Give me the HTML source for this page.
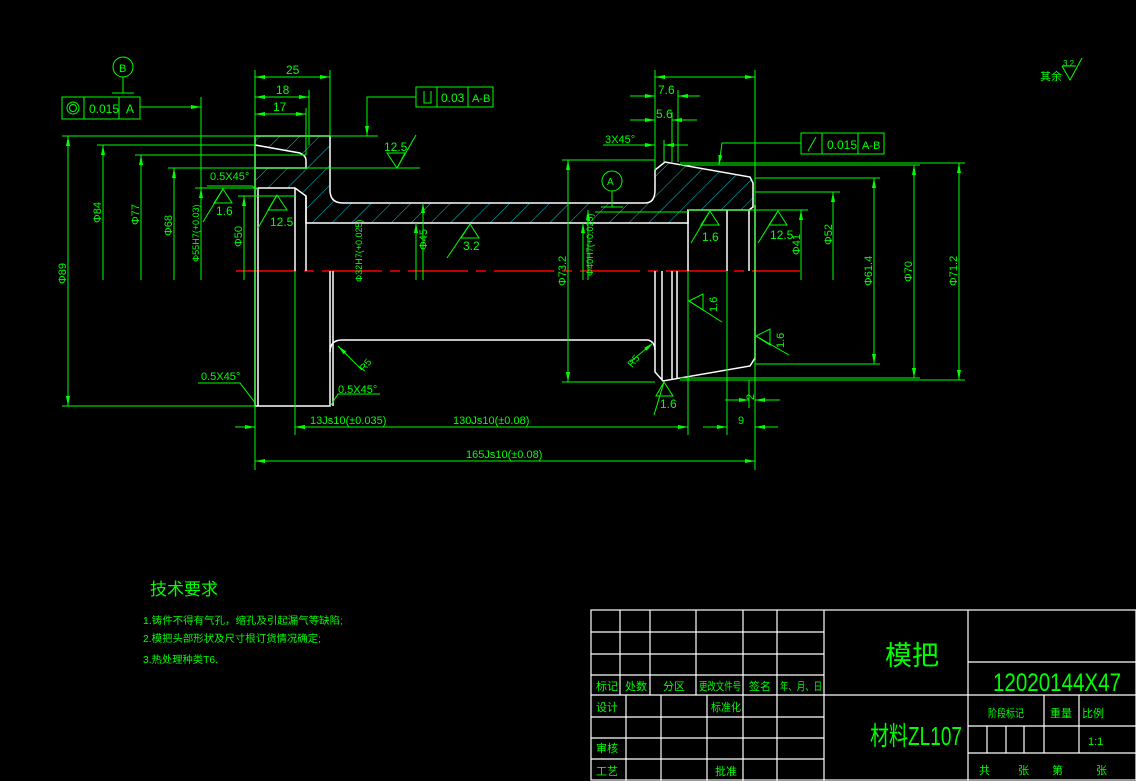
<!DOCTYPE html>
<html><head><meta charset="utf-8"><style>
html,body{margin:0;padding:0;background:#000;}
svg{display:block;}
text{font-family:"Liberation Sans","Noto Sans CJK SC",sans-serif;fill:#00ff00;}
</style></head><body>
<svg width="1136" height="781" viewBox="0 0 1136 781" xmlns="http://www.w3.org/2000/svg">
<defs>
<pattern id="h" patternUnits="userSpaceOnUse" width="14" height="14" patternTransform="rotate(45)">
<line x1="0" y1="0" x2="0" y2="14" stroke="#00c8d0" stroke-width="1"/>
</pattern>
<marker id="a" viewBox="0 0 10 4" refX="10" refY="2" markerWidth="10" markerHeight="4" orient="auto-start-reverse" markerUnits="userSpaceOnUse"><path d="M0,0L10,2L0,4z" fill="#00ff00"/></marker>
</defs>
<rect width="1136" height="781" fill="#000"/>

<!-- hatch -->
<path d="M255,136L330,136L330,190Q330,203 343,203L645,203Q655,203 655,190L655,170L665,162L750,177L753,183L753,207L749,210L688,210L688,223L306,223L306,196L295,188L258,188L255,185L255,168L306,168L306,158Q304,153 300,153L255,145Z" fill="url(#h)"/>

<!-- centerline -->
<line x1="236" y1="271" x2="800" y2="271" stroke="#ff0000" stroke-width="1.5" stroke-dasharray="60,8,10,8"/>

<!-- white geometry -->
<g stroke="#ffffff" stroke-width="1.5" fill="none">
<path d="M255,136L330,136L330,190Q330,203 343,203L645,203Q655,203 655,190L655,170L665,162L750,177L753,183L753,207L749,210L688,210L688,223L306,223L306,196L295,188L258,188"/>
<path d="M255,145L300,153Q306,156 306,160L306,168L255,168"/>
<line x1="255" y1="136" x2="255" y2="406"/>
<line x1="258" y1="188" x2="258" y2="406"/>
<line x1="295" y1="188" x2="295" y2="271"/>
<line x1="306" y1="196" x2="306" y2="271"/>
<path d="M255,406L330,406L330,352Q330,340 342,340L648,340Q655,342 655,350"/>
<line x1="333" y1="271" x2="333" y2="406"/>
<line x1="330" y1="271" x2="330" y2="352"/>
<line x1="688" y1="210" x2="688" y2="271"/>
<line x1="727" y1="210" x2="727" y2="271"/>
<line x1="749" y1="210" x2="749" y2="271"/>
<line x1="755" y1="205" x2="755" y2="360"/>
<path d="M655,271L655,372L663,381L750,366L755,358"/>
<line x1="662" y1="271" x2="662" y2="380"/>
<line x1="672" y1="271" x2="672" y2="379"/>
<line x1="677" y1="271" x2="677" y2="378"/>
</g>

<!-- green dimension lines -->
<g stroke="#00ff00" stroke-width="1" fill="none">
<!-- ext lines left -->
<line x1="62" y1="136" x2="378" y2="136"/>
<line x1="62" y1="406" x2="255" y2="406"/>
<line x1="97" y1="145" x2="255" y2="145"/>
<line x1="135" y1="155" x2="306" y2="155"/>
<line x1="168" y1="168" x2="420" y2="168"/>
<line x1="195" y1="188" x2="258" y2="188"/>
<line x1="238" y1="196" x2="295" y2="196"/>
<line x1="68" y1="136" x2="68" y2="406" marker-start="url(#a)" marker-end="url(#a)"/>
<line x1="103" y1="280" x2="103" y2="145" marker-end="url(#a)"/>
<line x1="141" y1="280" x2="141" y2="155" marker-end="url(#a)"/>
<line x1="174" y1="280" x2="174" y2="168" marker-end="url(#a)"/>
<line x1="201" y1="97" x2="201" y2="280"/>
<line x1="201" y1="230" x2="201" y2="188" marker-end="url(#a)"/>
<line x1="244" y1="280" x2="244" y2="196" marker-end="url(#a)"/>
<!-- top dims left -->
<line x1="255" y1="70" x2="255" y2="470"/>
<line x1="330" y1="70" x2="330" y2="136"/>
<line x1="309" y1="90" x2="309" y2="145"/>
<line x1="306" y1="108" x2="306" y2="155"/>
<line x1="255" y1="77" x2="330" y2="77" marker-start="url(#a)" marker-end="url(#a)"/>
<line x1="255" y1="97" x2="309" y2="97" marker-start="url(#a)" marker-end="url(#a)"/>
<line x1="255" y1="114" x2="306" y2="114" marker-start="url(#a)" marker-end="url(#a)"/>
<!-- left FCF -->
<rect x="62" y="97" width="78" height="22"/>
<line x1="84" y1="97" x2="84" y2="119"/><line x1="119" y1="97" x2="119" y2="119"/>
<circle cx="73" cy="108" r="6"/><circle cx="73" cy="108" r="3.5"/>
<line x1="140" y1="107" x2="201" y2="107" marker-end="url(#a)"/>
<circle cx="123" cy="67" r="10"/>
<line x1="123" y1="77" x2="123" y2="93"/><line x1="112" y1="93" x2="134" y2="93"/>
<!-- top FCF -->
<rect x="416" y="87" width="77" height="20"/>
<line x1="437" y1="87" x2="437" y2="107"/><line x1="468" y1="87" x2="468" y2="107"/>
<path d="M424,91L424,103L431,103L431,91"/>
<path d="M416,97L367,97L367,136" marker-end="url(#a)"/>
<line x1="300" y1="168" x2="408" y2="168"/>
<line x1="340" y1="136" x2="378" y2="136"/>
<!-- right top dims -->
<line x1="655" y1="70" x2="655" y2="170"/>
<line x1="755" y1="70" x2="755" y2="470"/>
<line x1="655" y1="77" x2="755" y2="77" marker-start="url(#a)" marker-end="url(#a)"/>
<line x1="678" y1="90" x2="678" y2="162"/>
<line x1="672" y1="112" x2="672" y2="162"/>
<line x1="664" y1="140" x2="664" y2="162"/>
<line x1="630" y1="96" x2="655" y2="96" marker-end="url(#a)"/>
<line x1="700" y1="96" x2="678" y2="96" marker-end="url(#a)"/>
<line x1="630" y1="120" x2="655" y2="120" marker-end="url(#a)"/>
<line x1="697" y1="120" x2="672" y2="120" marker-end="url(#a)"/>
<line x1="603" y1="145" x2="655" y2="145" marker-end="url(#a)"/>
<line x1="688" y1="145" x2="664" y2="145" marker-end="url(#a)"/>
<!-- right FCF -->
<rect x="801" y="133" width="83" height="21"/>
<line x1="822" y1="133" x2="822" y2="154"/><line x1="858" y1="133" x2="858" y2="154"/>
<line x1="808" y1="151" x2="816" y2="137"/>
<path d="M801,143L722,143L719,165" marker-end="url(#a)"/>
<!-- right diam dims -->
<line x1="562" y1="160" x2="655" y2="160"/>
<line x1="562" y1="382" x2="655" y2="382"/>
<line x1="568" y1="160" x2="568" y2="382" marker-start="url(#a)" marker-end="url(#a)"/>
<line x1="688" y1="210" x2="808" y2="210"/>
<line x1="801" y1="280" x2="801" y2="210" marker-end="url(#a)"/>
<line x1="755" y1="192" x2="840" y2="192"/>
<line x1="833" y1="280" x2="833" y2="192" marker-end="url(#a)"/>
<line x1="755" y1="178" x2="880" y2="178"/>
<line x1="755" y1="364" x2="880" y2="364"/>
<line x1="874" y1="178" x2="874" y2="364" marker-start="url(#a)" marker-end="url(#a)"/>
<line x1="680" y1="165" x2="920" y2="165"/>
<line x1="680" y1="378" x2="920" y2="378"/>
<line x1="914" y1="165" x2="914" y2="378" marker-start="url(#a)" marker-end="url(#a)"/>
<line x1="680" y1="163" x2="965" y2="163"/>
<line x1="680" y1="380" x2="965" y2="380"/>
<line x1="959" y1="163" x2="959" y2="380" marker-start="url(#a)" marker-end="url(#a)"/>
<!-- A datum -->
<circle cx="612" cy="181" r="10"/>
<line x1="612" y1="191" x2="612" y2="207"/><line x1="601" y1="207" x2="623" y2="207"/>
<line x1="595" y1="212" x2="688" y2="212"/>
<line x1="416" y1="280" x2="416" y2="223" marker-end="url(#a)"/>
<line x1="423" y1="280" x2="423" y2="203" marker-end="url(#a)"/>
<line x1="583" y1="280" x2="583" y2="223" marker-end="url(#a)"/>
<line x1="588" y1="280" x2="588" y2="210" marker-end="url(#a)"/>
<!-- bottom dims -->
<line x1="295" y1="271" x2="295" y2="435"/>
<line x1="688" y1="271" x2="688" y2="435"/>
<line x1="727" y1="271" x2="727" y2="435"/>
<line x1="749" y1="380" x2="749" y2="408"/>
<line x1="235" y1="427" x2="255" y2="427" marker-end="url(#a)"/>
<line x1="320" y1="427" x2="295" y2="427" marker-end="url(#a)"/>
<line x1="295" y1="427" x2="688" y2="427" marker-start="url(#a)" marker-end="url(#a)"/>
<line x1="703" y1="427" x2="727" y2="427" marker-end="url(#a)"/>
<line x1="778" y1="427" x2="755" y2="427" marker-end="url(#a)"/>
<line x1="725" y1="400" x2="749" y2="400" marker-end="url(#a)"/>
<line x1="780" y1="400" x2="755" y2="400" marker-end="url(#a)"/>
<line x1="255" y1="461" x2="755" y2="461" marker-start="url(#a)" marker-end="url(#a)"/>
<!-- chamfer leaders -->
<path d="M207,186L252,186L258,190"/>
<path d="M198,383L240,383L256,404"/>
<path d="M380,394L338,394L331,405"/>
<line x1="338" y1="346" x2="362" y2="370" marker-start="url(#a)"/>
<line x1="653" y1="343" x2="630" y2="362" marker-start="url(#a)"/>
<!-- roughness symbols -->
<path d="M387,153L405,153L397,168Z"/><line x1="397" y1="168" x2="416" y2="135"/>
<path d="M223,189L214,203L232,203Z"/><line x1="223" y1="189" x2="203" y2="222"/>
<path d="M277,195L268,210L287,210Z"/><line x1="277" y1="195" x2="258" y2="228"/>
<path d="M470,224L461,238L479,238Z"/><line x1="470" y1="224" x2="447" y2="258"/>
<path d="M710,211L701,225L719,225Z"/><line x1="710" y1="211" x2="691" y2="243"/>
<path d="M778,211L769,225L787,225Z"/><line x1="778" y1="211" x2="758" y2="243"/>
<path d="M689,301L703,294L703,310Z"/><line x1="689" y1="301" x2="722" y2="322"/>
<path d="M756,336L770,329L770,345Z"/><line x1="756" y1="336" x2="789" y2="355"/>
<path d="M664,382L656,396L673,396Z"/><line x1="664" y1="382" x2="654" y2="415"/>
<path d="M1062,66L1070,80L1082,58"/><line x1="1062" y1="66" x2="1076" y2="66"/>
</g>

<!-- left texts -->
<g font-size="12">
<text x="286" y="74">25</text>
<text x="276" y="94">18</text>
<text x="273" y="111">17</text>
<text x="89" y="113" font-size="12">0.015</text>
<text x="126" y="113">A</text>
<text x="119" y="72" font-size="11">B</text>
<text x="441" y="102" font-size="12">0.03</text>
<text x="472" y="102" font-size="11">A-B</text>
<text x="384" y="151">12.5</text>
<text x="210" y="180" font-size="11">0.5X45°</text>
<text x="216" y="215">1.6</text>
<text x="270" y="226">12.5</text>
<text x="463" y="250">3.2</text>
<text x="702" y="241">1.6</text>
<text x="770" y="239">12.5</text>
<text x="660" y="408">1.6</text>
<text x="201" y="380" font-size="11">0.5X45°</text>
<text x="338" y="393" font-size="11">0.5X45°</text>
<text x="310" y="424" font-size="11">13Js10(±0.035)</text>
<text x="453" y="424" font-size="11">130Js10(±0.08)</text>
<text x="466" y="458" font-size="11">165Js10(±0.08)</text>
<text x="738" y="424" font-size="11">9</text>
<text x="658" y="94">7.6</text>
<text x="656" y="118">5.6</text>
<text x="605" y="143" font-size="11">3X45°</text>
<text x="607" y="185" font-size="10">A</text>
<text x="827" y="149">0.015</text>
<text x="862" y="149" font-size="11">A-B</text>
<text x="1040" y="80" font-size="11">其余</text>
<text x="1063" y="66" font-size="8">3.2</text>
</g>
<!-- rotated texts -->
<g font-size="11">
<text transform="translate(66,284) rotate(-90)">Φ89</text>
<text transform="translate(101,223) rotate(-90)">Φ84</text>
<text transform="translate(139,225) rotate(-90)">Φ77</text>
<text transform="translate(172,236) rotate(-90)">Φ68</text>
<text transform="translate(199,262) rotate(-90)" font-size="9">Φ55H7(+0.03)</text>
<text transform="translate(242,247) rotate(-90)">Φ50</text>
<text transform="translate(362,282) rotate(-90)" font-size="9">Φ32H7(+0.025)</text>
<text transform="translate(427,250) rotate(-90)">Φ45</text>
<text transform="translate(566,286) rotate(-90)">Φ73.2</text>
<text transform="translate(593,276) rotate(-90)" font-size="9">Φ40H7(+0.025)</text>
<text transform="translate(800,255) rotate(-90)">Φ41</text>
<text transform="translate(832,245) rotate(-90)">Φ52</text>
<text transform="translate(872,286) rotate(-90)">Φ61.4</text>
<text transform="translate(912,282) rotate(-90)">Φ70</text>
<text transform="translate(957,286) rotate(-90)">Φ71.2</text>
<text transform="translate(717,312) rotate(-90)">1.6</text>
<text transform="translate(784,348) rotate(-90)">1.6</text>
<text transform="translate(754,400) rotate(-90)">2</text>
<text transform="translate(364,372) rotate(-50)" font-size="10">R5</text>
<text transform="translate(632,368) rotate(-50)" font-size="10">R5</text>
</g>

<!-- tech requirements -->
<text x="150" y="595" font-size="17">技术要求</text>
<g font-size="10">
<text x="143" y="624" textLength="200" lengthAdjust="spacingAndGlyphs">1.铸件不得有气孔，缩孔及引起漏气等缺陷;</text>
<text x="143" y="642" textLength="178" lengthAdjust="spacingAndGlyphs">2.模把头部形状及尺寸根订货情况确定;</text>
<text x="143" y="663" textLength="75" lengthAdjust="spacingAndGlyphs">3.热处理种类T6.</text>
</g>

<!-- title block -->
<g stroke="#ffffff" stroke-width="1.2" fill="none">
<rect x="591" y="610" width="545" height="170"/>
<line x1="591" y1="632" x2="824" y2="632"/>
<line x1="591" y1="654" x2="824" y2="654"/>
<line x1="591" y1="675" x2="824" y2="675"/>
<line x1="591" y1="695" x2="1136" y2="695"/>
<line x1="591" y1="717" x2="824" y2="717"/>
<line x1="591" y1="738" x2="824" y2="738"/>
<line x1="591" y1="759" x2="824" y2="759"/>
<line x1="620" y1="610" x2="620" y2="695"/>
<line x1="650" y1="610" x2="650" y2="695"/>
<line x1="696" y1="610" x2="696" y2="695"/>
<line x1="743" y1="610" x2="743" y2="781"/>
<line x1="777" y1="610" x2="777" y2="781"/>
<line x1="824" y1="610" x2="824" y2="781"/>
<line x1="626" y1="695" x2="626" y2="781"/>
<line x1="661" y1="695" x2="661" y2="781"/>
<line x1="707" y1="695" x2="707" y2="781"/>
<line x1="968" y1="610" x2="968" y2="781"/>
<line x1="968" y1="662" x2="1136" y2="662"/>
<line x1="968" y1="726" x2="1136" y2="726"/>
<line x1="968" y1="753" x2="1136" y2="753"/>
<line x1="1044" y1="695" x2="1044" y2="753"/>
<line x1="1079" y1="695" x2="1079" y2="753"/>
<line x1="987" y1="726" x2="987" y2="753"/>
<line x1="1006" y1="726" x2="1006" y2="753"/>
<line x1="1024" y1="726" x2="1024" y2="753"/>
</g>
<g font-size="11">
<text x="596" y="690">标记</text>
<text x="625" y="690">处数</text>
<text x="663" y="690">分区</text>
<text x="699" y="690" textLength="42" lengthAdjust="spacingAndGlyphs">更改文件号</text>
<text x="749" y="690">签名</text>
<text x="780" y="690" textLength="42" lengthAdjust="spacingAndGlyphs">年、月、日</text>
<text x="596" y="711">设计</text>
<text x="711" y="711" textLength="30" lengthAdjust="spacingAndGlyphs">标准化</text>
<text x="596" y="752">审核</text>
<text x="596" y="775">工艺</text>
<text x="715" y="775">批准</text>
<text x="988" y="717" textLength="36" lengthAdjust="spacingAndGlyphs">阶段标记</text>
<text x="1050" y="717">重量</text>
<text x="1082" y="717">比例</text>
<text x="1088" y="745">1:1</text>
<text x="979" y="774">共</text>
<text x="1018" y="774">张</text>
<text x="1052" y="774">第</text>
<text x="1096" y="774">张</text>
</g>
<text x="885" y="665" font-size="27">模把</text>
<text x="870" y="745" font-size="26" textLength="92" lengthAdjust="spacingAndGlyphs">材料ZL107</text>
<text x="993" y="691" font-size="25" textLength="128" lengthAdjust="spacingAndGlyphs">12020144X47</text>
</svg>
</body></html>
